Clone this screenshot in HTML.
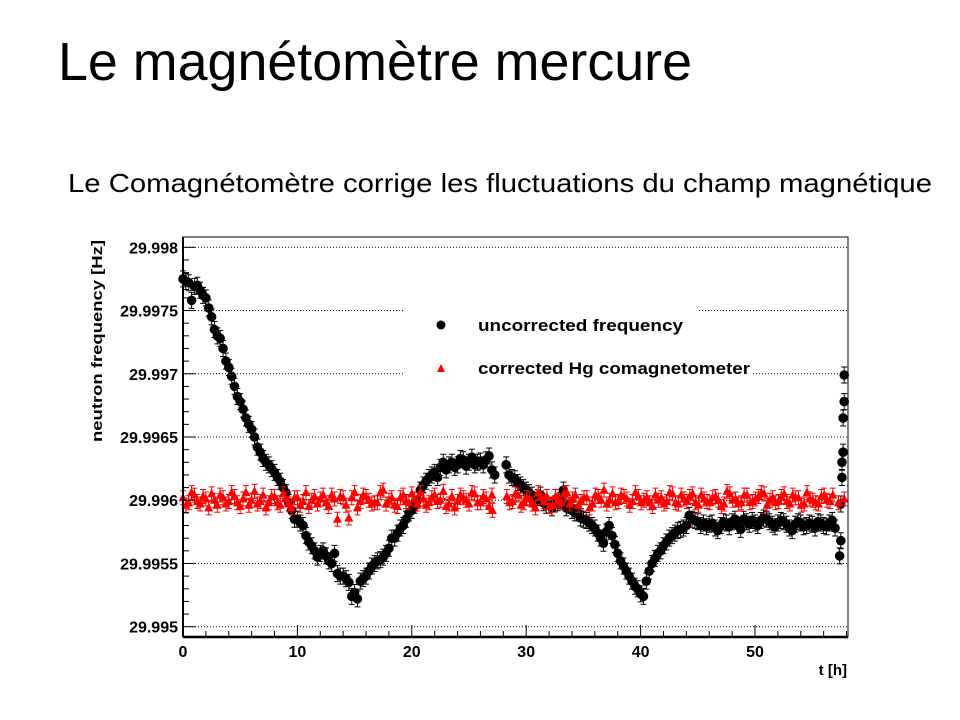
<!DOCTYPE html>
<html><head><meta charset="utf-8"><style>
body{margin:0;background:#fff}
svg{display:block;font-family:"Liberation Sans",sans-serif}
</style></head><body>
<svg id="c" width="960" height="720">
<text x="58" y="80" font-size="54" textLength="634" lengthAdjust="spacingAndGlyphs">Le magnétomètre mercure</text>
<text x="68" y="192" font-size="26" textLength="864" lengthAdjust="spacingAndGlyphs">Le Comagnétomètre corrige les fluctuations du champ magnétique</text>
<g id="plot"></g>
</svg>
<script>
const BASE = 29.996; // values below are offsets in µHz
const yTicks = [29.995, 29.9955, 29.996, 29.9965, 29.997, 29.9975, 29.998];
const yTickLabels = ["29.995","29.9955","29.996","29.9965","29.997","29.9975","29.998"];
const xTicks = [0,10,20,30,40,50];
const xTickLabels = ["0","10","20","30","40","50"];
const tBlack = [0,0.5,1,1.5,2,2.5,3,3.5,4,4.5,5,5.5,6,6.5,7,7.5,8,8.5,9,9.5,10,10.5,11,11.5,12,12.5,13,13.5,14,14.5,15,15.5,16,16.5,17,17.5,18,18.5,19,19.5,20,20.5,21,21.5,22,22.5,23,23.5,24,24.5,25,25.5,26,26.5,27,28.5,29,29.5,30,30.5,31,31.5,32,32.5,33,33.5,34,34.5,35,35.5,36,36.5,37,37.5,38,38.5,39,39.5,40,40.5,41,41.5,42,42.5,43,43.5,44,44.5,45,45.5,46,46.5,47,47.5,48,48.5,49,49.5,50,50.5,51,51.5,52,52.5,53,53.5,54,54.5,55,55.5,56,56.5,57,57.4,57.5,57.5,57.6,57.6,57.7,57.7,57.8,57.8];
const vBlack = [1750,1720,1690,1660,1600,1450,1300,1200,1050,900,780,650,560,420,330,280,220,150,60,-80,-150,-200,-330,-400,-420,-440,-500,-580,-600,-650,-730,-640,-600,-520,-480,-450,-380,-300,-220,-150,-80,0,120,180,220,260,240,300,280,320,300,280,310,320,240,200,170,120,80,40,20,-20,-40,-30,0,-60,-80,-100,-150,-180,-220,-300,-250,-280,-420,-520,-600,-680,-740,-640,-500,-420,-360,-300,-260,-230,-200,-150,-170,-180,-190,-220,-200,-180,-170,-200,-150,-190,-180,-160,-150,-190,-180,-170,-220,-190,-180,-200,-190,-170,-200,-180,-220,-440,-320,-30,180,300,380,650,780,990,1010];
const tBlack2 = [0.25,0.75,1.25,1.75,2.25,2.75,3.25,3.75,4.25,4.75,5.25,5.75,6.25,6.75,7.25,7.75,8.25,8.75,9.25,9.75,10.25,10.75,11.25,11.75,12.25,12.75,13.25,13.75,14.25,14.75,15.25,15.75,16.25,16.75,17.25,17.75,18.25,18.75,19.25,19.75,20.25,20.75,21.25,21.75,22.25,22.75,23.25,23.75,24.25,24.75,25.25,25.75,26.25,26.75,27.25,28.25,28.75,29.25,29.75,30.25,30.75,31.25,31.75,32.25,32.75,33.25,33.75,34.25,34.75,35.25,35.75,36.25,36.75,37.25,37.75,38.25,38.75,39.25,39.75,40.25,40.75,41.25,41.75,42.25,42.75,43.25,43.75,44.25,44.75,45.25,45.75,46.25,46.75,47.25,47.75,48.25,48.75,49.25,49.75,50.25,50.75,51.25,51.75,52.25,52.75,53.25,53.75,54.25,54.75,55.25,55.75,56.25,56.75];
const vBlack2 = [1730,1580,1700,1620,1520,1350,1280,1100,980,820,720,600,500,380,300,250,180,100,-20,-150,-180,-280,-360,-450,-400,-480,-420,-600,-620,-760,-780,-620,-560,-500,-470,-420,-300,-260,-200,-100,-40,80,150,200,180,300,280,260,330,270,340,300,280,350,200,280,180,140,100,60,0,40,-40,-60,-20,80,-40,-100,-140,-160,-200,-260,-340,-200,-350,-480,-560,-640,-700,-760,-560,-460,-400,-330,-280,-240,-220,-120,-160,-200,-210,-180,-240,-170,-210,-150,-230,-170,-160,-200,-140,-170,-210,-160,-190,-240,-170,-210,-180,-220,-180,-210,-160];
const tRed = [0,0.5,1,1.5,2,2.5,3,3.5,4,4.5,5,5.5,6,6.5,7,7.5,8,8.5,9,9.5,10,10.5,11,11.5,12,12.5,13,13.5,14,14.5,15,15.5,16,16.5,17,17.5,18,18.5,19,19.5,20,20.5,21,21.5,22,22.5,23,23.5,24,24.5,25,25.5,26,26.5,27,28.3,28.8,29.3,29.8,30.3,30.8,31.3,31.8,32.3,32.8,33.3,33.8,34.3,34.8,35.3,35.8,36.3,36.8,37.3,37.8,38.3,38.8,39.3,39.8,40.3,40.8,41.3,41.8,42.3,42.8,43.3,43.8,44.3,44.8,45.3,45.8,46.3,46.8,47.3,47.8,48.3,48.8,49.3,49.8,50.3,50.8,51.3,51.8,52.3,52.8,53.3,53.8,54.3,54.8,55.3,55.8,56.3,56.8,57.3,57.8];
const vRed = [20,-20,40,-30,10,50,-40,20,-10,30,-50,60,0,-30,40,-20,30,-40,10,-60,20,-10,-50,30,10,-20,40,-150,20,-140,60,-10,30,-30,-20,80,0,-40,20,-10,50,-30,10,-20,40,0,-50,30,-10,20,-30,50,-20,10,40,30,-10,40,-20,10,-60,20,30,-40,0,50,-30,40,-10,20,-30,30,80,0,-20,40,10,-10,30,0,-20,40,20,-10,50,-30,10,30,-20,40,-10,20,0,-30,50,10,-20,40,-10,30,50,0,-20,30,-10,40,20,-30,10,-20,30,0,40,-20,10];
const tRed2 = [0.25,0.75,1.25,1.75,2.25,2.75,3.25,3.75,4.25,4.75,5.25,5.75,6.25,6.75,7.25,7.75,8.25,8.75,9.25,9.75,10.25,10.75,11.25,11.75,12.25,12.75,13.25,13.75,14.25,14.75,15.25,15.75,16.25,16.75,17.25,17.75,18.25,18.75,19.25,19.75,20.25,20.75,21.25,21.75,22.25,22.75,23.25,23.75,24.25,24.75,25.25,25.75,26.25,26.75,27.05,28.55,29.05,29.55,30.05,30.55,31.05,31.55,32.05,32.55,33.05,33.55,34.05,34.55,35.05,35.55,36.05,36.55,37.05,37.55,38.05,38.55,39.05,39.55,40.05,40.55,41.05,41.55,42.05,42.55,43.05,43.55,44.05,44.55,45.05,45.55,46.05,46.55,47.05,47.55,48.05,48.55,49.05,49.55,50.05,50.55,51.05,51.55,52.05,52.55,53.05,53.55,54.05,54.55,55.05,55.55,56.05,56.55,57.05,57.55];
const vRed2 = [-40,60,-10,30,-60,0,40,-30,60,-20,10,-40,70,-10,-60,30,-20,50,-30,20,-40,60,0,-30,40,-50,10,30,-40,20,-60,40,0,-20,60,-30,20,-50,40,-20,10,60,-40,20,-10,70,-30,-60,40,0,60,-20,30,-50,-80,-20,50,-40,20,-30,60,-10,-50,30,-20,60,10,-40,20,-60,40,0,-30,50,-10,30,-40,60,-20,20,-50,0,-30,60,-20,40,-10,50,-40,10,-20,30,-50,70,0,-30,40,-20,10,60,-40,20,-10,50,-30,20,-40,60,0,-30,40,-10];

const X0=183,X1=848,Y0=237,Y1=637;
const xScale = t => 183 + t*11.44;
const yScale = f => 626.7 - (f-29.995)/0.003*379.4;
const yv = v => yScale(BASE + v*1e-6);
const NS="http://www.w3.org/2000/svg";
const g=document.getElementById('plot');
function mk(tag,attrs,parent){const e=document.createElementNS(NS,tag);for(const k in attrs)e.setAttribute(k,attrs[k]);(parent||g).appendChild(e);return e;}

yTicks.forEach((f,i)=>{
  const l=mk('line',{x1:X0,x2:X1,y1:yScale(f),y2:yScale(f),stroke:'#000','stroke-width':1,'stroke-dasharray':'1,2'});
  
  
});
const lb=mk('rect',{x:404,y:295,width:293,height:92,fill:'#fff'});


const lb2=mk('rect',{x:697,y:362,width:55,height:22,fill:'#fff'});



const red=mk('g',{fill:'#ff0000',stroke:'#ff0000'});


function drawRed(ts,vs){
  ts.forEach((t,i)=>{
    const x=xScale(t),y=yv(vs[i]);
    const e=mk('path',{d:`M${x},${y-7}V${y+7}M${x-3},${y-7}H${x+3}M${x-3},${y+7}H${x+3}`,'stroke-width':1,fill:'none'},red);
    
    
    const p=mk('path',{d:`M${x},${y-5}L${x+4.5},${y+3.5}L${x-4.5},${y+3.5}Z`,stroke:'none'},red);
    
    
  });
}
const blk=mk('g',{fill:'#000',stroke:'#000'});


function drawBlack(ts,vs){
  ts.forEach((t,i)=>{
    const x=xScale(t),y=yv(vs[i]);
    const e=mk('path',{d:`M${x},${y-8}V${y+8}M${x-3},${y-8}H${x+3}M${x-3},${y+8}H${x+3}`,'stroke-width':1,fill:'none'},blk);
    
    
    const c=mk('circle',{cx:x,cy:y,r:4.8,stroke:'none'},blk);
    
    
  });
}
drawBlack(tBlack,vBlack);
drawBlack(tBlack2,vBlack2);
drawRed(tRed,vRed);
drawRed(tRed2,vRed2);
g.appendChild(blk); // keep order: red under? reference shows red mostly over black; move red on top
g.appendChild(red);

const fr=mk('rect',{x:X0,y:Y0,width:X1-X0,height:Y1-Y0,fill:'none',stroke:'#000','stroke-width':1});


const fb=mk('line',{x1:X0,x2:X1,y1:Y1,y2:Y1,stroke:'#000','stroke-width':2.5});


const fl=mk('line',{x1:X0,x2:X0,y1:Y0,y2:Y1,stroke:'#000','stroke-width':2});



for(let k=0;k<=35;k++){
  const f=29.995+k*0.0001; const y=yScale(f); if(y<Y0) continue;
  const major=k%5===0;
  const t=mk('line',{x1:X0,x2:X0+(major?12:6),y1:y,y2:y,stroke:'#000','stroke-width':1});
  
  
}
yTicks.forEach((f,i)=>{
  const t=mk('text',{x:178,y:yScale(f)+6,'text-anchor':'end','font-size':16,'font-weight':'bold'});
  t.textContent=yTickLabels[i];
  
  
});
for(let h=0;h<=58;h+=2){
  const x=xScale(h); const major=h%10===0;
  const t=mk('line',{x1:x,x2:x,y1:Y1,y2:Y1-(major?12:6),stroke:'#000','stroke-width':1});
  
  
}
xTicks.forEach((h,i)=>{
  const t=mk('text',{x:xScale(h),y:657,'text-anchor':'middle','font-size':16,'font-weight':'bold'});
  t.textContent=xTickLabels[i];
  
  
});
const xt=mk('text',{x:847,y:675,'text-anchor':'end','font-size':15,'font-weight':'bold'});
xt.textContent='t [h]';


const yt=mk('text',{x:0,y:0,'text-anchor':'middle','font-size':15,'font-weight':'bold',textLength:202,lengthAdjust:'spacingAndGlyphs',transform:'translate(102,341) rotate(-90)'});
yt.textContent='neutron frequency [Hz]';



const lc=mk('circle',{cx:441,cy:325,r:4.5,fill:'#000'});


const lt1=mk('text',{x:478,y:331,'font-size':17,'font-weight':'bold',textLength:205,lengthAdjust:'spacingAndGlyphs'});
lt1.textContent='uncorrected frequency';


const ltr=mk('path',{d:'M441,364L445,372L437,372Z',fill:'#ff0000'});


const lt2=mk('text',{x:478,y:374,'font-size':17,'font-weight':'bold',textLength:272,lengthAdjust:'spacingAndGlyphs'});
lt2.textContent='corrected Hg comagnetometer';


</script>
</body></html>
